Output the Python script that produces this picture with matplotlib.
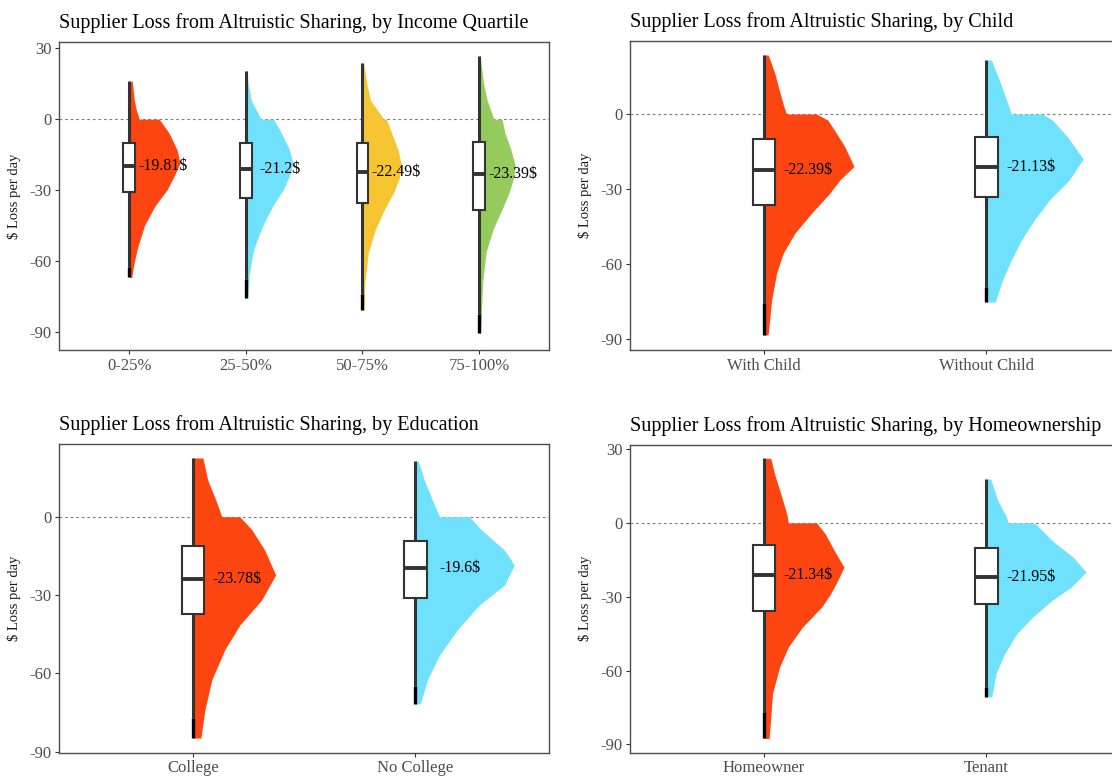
import matplotlib
matplotlib.use("Agg")
import matplotlib.pyplot as plt
from matplotlib.patches import Rectangle

plt.rcParams['font.family'] = ['Liberation Serif', 'DejaVu Serif']
plt.rcParams['axes.unicode_minus'] = False

RED = "#FC4511"
CYAN = "#6FE1FD"
YELLOW = "#F7C431"
GREEN = "#95CA5C"

# ---------------- Panel 1: Income quartile ----------------
inc_labels = ["0-25%", "25-50%", "50-75%", "75-100%"]
inc_colors = [RED, CYAN, YELLOW, GREEN]
inc_text = [-19.81, -21.2, -22.49, -23.39]
inc_q1 = [-30.9, -33.3, -35.7, -38.5]
inc_q3 = [-9.9, -10.2, -10.2, -9.5]
inc_whisk_lo = [-62.7, -67.6, -73.9, -82.3]
inc_min = [-67.0, -75.6, -80.9, -90.7]
inc_max = [16.0, 20.6, 23.8, 26.9]
inc_dens_y = [
    [16, 8, 4, 1, 0, 0, -6, -13, -18.6, -24, -29.8, -36.8, -45.2, -55, -62, -67],
    [20.6, 15, 8, 1, 0, 0, -6, -13, -18.6, -24, -29.8, -36.8, -45.2, -55, -64.8, -75.6],
    [23.8, 15, 8, 1, 0, 0, -6, -13, -20, -25.6, -31.2, -38.2, -46.6, -56.4, -69, -80.9],
    [26.9, 15, 8, 1, 0, 0, -6, -13, -20, -25.6, -31.2, -38.2, -46.6, -56.4, -69, -90.7],
]
inc_dens_w = [
    [0.026, 0.043, 0.06, 0.08, 0.082, 0.257, 0.343, 0.41, 0.435, 0.386, 0.326, 0.22, 0.129, 0.068, 0.037, 0.021],
    [0.01, 0.021, 0.046, 0.12, 0.125, 0.238, 0.306, 0.374, 0.403, 0.374, 0.322, 0.23, 0.144, 0.068, 0.031, 0.017],
    [0.01, 0.037, 0.068, 0.17, 0.175, 0.205, 0.251, 0.306, 0.337, 0.312, 0.266, 0.189, 0.111, 0.051, 0.021, 0.013],
    [0.01, 0.039, 0.07, 0.12, 0.125, 0.197, 0.223, 0.274, 0.312, 0.292, 0.257, 0.197, 0.12, 0.06, 0.031, 0.013],
]

# ---------------- Panel 2: Child ----------------
chi_labels = ["With Child", "Without Child"]
chi_colors = [RED, CYAN]
chi_text = [-22.39, -21.13]
chi_q1 = [-36.4, -33.2]
chi_q3 = [-10.0, -9.2]
chi_whisk_lo = [-75.7, -69.2]
chi_min = [-88.4, -75.2]
chi_max = [23.6, 21.6]
chi_dens_y = [
    [23.6, 16.3, 9.6, 2.9, 0, 0, -2.4, -7.7, -13, -21, -26.4, -31.7, -39.7, -47.7, -55.7, -63.7, -74.4, -88.4],
    [21.6, 13.6, 5.6, 0, 0, -2.4, -9, -18, -26.4, -34.4, -42.4, -50.4, -58.4, -66.4, -75.2],
]
chi_dens_w = [
    [0.02, 0.049, 0.069, 0.09, 0.102, 0.236, 0.287, 0.326, 0.363, 0.405, 0.341, 0.296, 0.214, 0.139, 0.087, 0.057, 0.035, 0.019],
    [0.022, 0.058, 0.09, 0.112, 0.251, 0.296, 0.363, 0.435, 0.372, 0.283, 0.215, 0.157, 0.112, 0.072, 0.04],
]

# ---------------- Panel 3: Education ----------------
edu_labels = ["College", "No College"]
edu_colors = [RED, CYAN]
edu_text = [-23.78, -19.6]
edu_q1 = [-37.3, -31.2]
edu_q3 = [-11.2, -9.3]
edu_whisk_lo = [-77.0, -64.9]
edu_min = [-84.8, -71.7]
edu_max = [22.5, 21.3]
edu_dens_y = [
    [22.5, 14, 6.4, 0, 0, -5, -12.8, -22.3, -31.9, -41.5, -51, -62.5, -74, -84.8],
    [21.3, 14, 6.4, 0, 0, -5, -12.8, -18.5, -26.2, -33.8, -43.4, -53, -62.5, -71.7],
]
edu_dens_w = [
    [0.045, 0.067, 0.103, 0.13, 0.211, 0.265, 0.323, 0.372, 0.309, 0.211, 0.143, 0.085, 0.054, 0.036],
    [0.013, 0.04, 0.076, 0.108, 0.242, 0.296, 0.4, 0.444, 0.4, 0.287, 0.188, 0.108, 0.054, 0.022],
]

# ---------------- Panel 4: Homeownership ----------------
hom_labels = ["Homeowner", "Tenant"]
hom_colors = [RED, CYAN]
hom_text = [-21.34, -21.95]
hom_q1 = [-35.9, -32.8]
hom_q3 = [-9.2, -10.3]
hom_whisk_lo = [-76.8, -66.6]
hom_min = [-87.6, -70.7]
hom_max = [26.2, 17.8]
hom_dens_y = [
    [26.2, 19.9, 11.8, 3.6, 0, 0, -4.5, -11.2, -18, -23.4, -28.8, -34.2, -42.3, -50.4, -58.5, -69.3, -87.6],
    [17.8, 9.1, 2.3, 0, 0, -7.2, -14, -20, -26.1, -31.5, -38.2, -45, -53.1, -61.2, -70.7],
]
hom_dens_w = [
    [0.031, 0.048, 0.076, 0.103, 0.11, 0.237, 0.276, 0.316, 0.36, 0.332, 0.3, 0.26, 0.174, 0.11, 0.071, 0.039, 0.024],
    [0.019, 0.051, 0.09, 0.098, 0.216, 0.295, 0.39, 0.448, 0.381, 0.295, 0.209, 0.137, 0.082, 0.043, 0.024],
]

yticks = [-90, -60, -30, 0, 30]

W, H = 1112, 781
fig = plt.figure(figsize=(W / 100, H / 100), dpi=100)


def make_ax(left, top, right, bottom):
    return fig.add_axes([left / W, 1 - bottom / H, (right - left) / W, (bottom - top) / H])


def draw_panel(ax, title, labels, colors, text_vals, q1, q3, wlo, vmin, vmax,
               dens_y, dens_w, ylim, text_off, width_px):
    n = len(labels)
    ax.set_xlim(0.4, n + 0.6)
    ax.set_ylim(*ylim)
    ax.axhline(0, color="#7F7F7F", lw=0.8, ls=(0, (2.5, 2.5)), zorder=1)
    for i in range(n):
        x = i + 1
        ys = dens_y[i]
        ws = [x + w for w in dens_w[i]]
        ax.fill_betweenx(ys, x, ws, color=colors[i], lw=0, zorder=2)
        # whisker
        ax.plot([x, x], [wlo[i], vmax[i]], color="#333333", lw=2.2,
                solid_capstyle="butt", zorder=3)
        # outliers
        ax.plot([x, x], [vmin[i], wlo[i]], color="#000000", lw=2.4,
                solid_capstyle="butt", zorder=3)
        # box
        bw = 0.1
        ax.add_patch(Rectangle((x - bw / 2, q1[i]), bw, q3[i] - q1[i],
                               facecolor="white", edgecolor="#333333", lw=1.5, zorder=4))
        ax.plot([x - bw / 2, x + bw / 2], [text_vals[i], text_vals[i]],
                color="#333333", lw=2.8, solid_capstyle="butt", zorder=5)
        ax.text(x + text_off, text_vals[i], f"{text_vals[i]}\\$", ha="center",
                va="center", fontsize=11.5, color="black", zorder=6)
    ax.set_xticks(range(1, n + 1))
    ax.set_xticklabels(labels)
    ax.set_yticks([t for t in yticks if ylim[0] <= t <= ylim[1]])
    ax.tick_params(axis="both", colors="#333333", length=3, width=0.8,
                   labelsize=12, labelcolor="#4D4D4D", pad=2.5)
    for s in ax.spines.values():
        s.set_color("#4D4D4D")
        s.set_linewidth(1.0)
    ax.set_ylabel("\\$ Loss per day", fontsize=10.5, color="#1A1A1A")
    ax.yaxis.set_label_coords(-38 / width_px, 0.5)
    ax.set_title(title, loc="left", fontsize=14.5, pad=10)


ax1 = make_ax(59.3, 41.7, 549, 350)
draw_panel(ax1, "Supplier Loss from Altruistic Sharing, by Income Quartile",
           inc_labels, inc_colors, inc_text, inc_q1, inc_q3, inc_whisk_lo,
           inc_min, inc_max, inc_dens_y, inc_dens_w, (-97.75, 32.8), 0.29, 489.7)

ax2 = make_ax(630.3, 41, 1120, 350)
draw_panel(ax2, "Supplier Loss from Altruistic Sharing, by Child",
           chi_labels, chi_colors, chi_text, chi_q1, chi_q3, chi_whisk_lo,
           chi_min, chi_max, chi_dens_y, chi_dens_w, (-94.4, 29.2), 0.2, 489.7)

ax3 = make_ax(59.3, 444, 549, 752.7)
draw_panel(ax3, "Supplier Loss from Altruistic Sharing, by Education",
           edu_labels, edu_colors, edu_text, edu_q1, edu_q3, edu_whisk_lo,
           edu_min, edu_max, edu_dens_y, edu_dens_w, (-90.4, 27.85), 0.2, 489.7)

ax4 = make_ax(630.3, 444.7, 1120, 752.7)
draw_panel(ax4, "Supplier Loss from Altruistic Sharing, by Homeownership",
           hom_labels, hom_colors, hom_text, hom_q1, hom_q3, hom_whisk_lo,
           hom_min, hom_max, hom_dens_y, hom_dens_w, (-93.4, 31.75), 0.2, 489.7)

fig.savefig("out.png", dpi=100, facecolor="white")
